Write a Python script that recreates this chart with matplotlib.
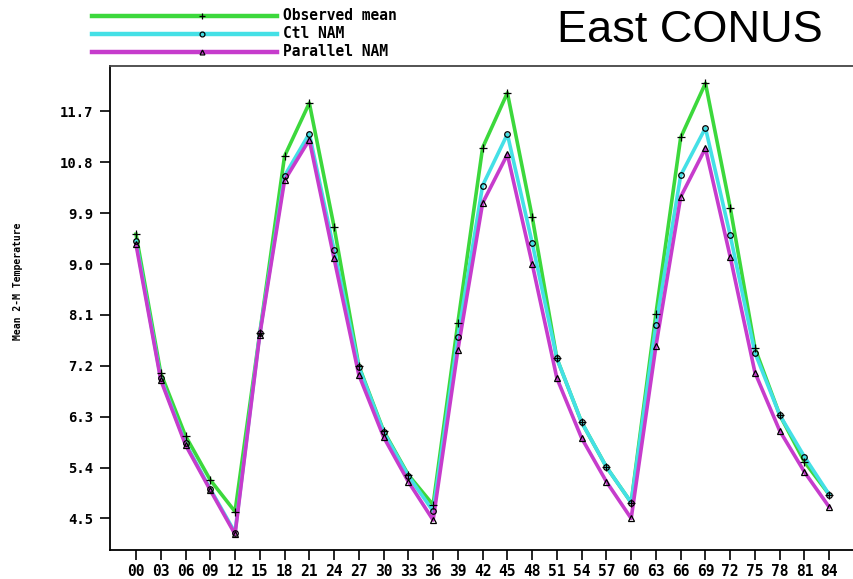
import numpy as np
import matplotlib
matplotlib.use("Agg")
import matplotlib.pyplot as plt
from matplotlib.lines import Line2D

# forecast hour
hours = np.arange(0, 87, 3)
hour_labels = ["%02d" % h for h in hours]

observed = [9.53, 7.07, 5.96, 5.18, 4.62, 7.78, 10.91, 11.85, 9.66, 7.20, 6.05, 5.27,
            4.74, 7.96, 11.06, 12.03, 9.84, 7.33, 6.20, 5.41, 4.78, 8.12, 11.24, 12.20,
            10.00, 7.51, 6.33, 5.50, 4.92]
ctl_nam = [9.41, 6.98, 5.83, 5.02, 4.25, 7.78, 10.56, 11.31, 9.25, 7.18, 6.03, 5.25,
           4.63, 7.71, 10.39, 11.30, 9.38, 7.33, 6.20, 5.41, 4.78, 7.92, 10.57, 11.41,
           9.51, 7.43, 6.33, 5.59, 4.92]
parallel_nam = [9.35, 6.95, 5.80, 5.00, 4.22, 7.75, 10.48, 11.20, 9.10, 7.04, 5.94, 5.15,
                4.47, 7.48, 10.08, 10.94, 9.01, 6.98, 5.92, 5.15, 4.50, 7.55, 10.19, 11.05,
                9.13, 7.08, 6.05, 5.32, 4.70]
yticks = [4.5, 5.4, 6.3, 7.2, 8.1, 9.0, 9.9, 10.8, 11.7]

GREEN = "#3cd83c"
CYAN = "#44e0e6"
MAGENTA = "#c63ccc"

mono = {"family": "DejaVu Sans Mono", "weight": "bold"}

fig = plt.figure(figsize=(8.54, 5.79), dpi=100)
ax = fig.add_axes([0.1288, 0.05, 0.8712, 0.836])

series = [
    (observed, GREEN, "+", "Observed mean", 5.5),
    (ctl_nam, CYAN, "o", "Ctl NAM", 4),
    (parallel_nam, MAGENTA, "^", "Parallel NAM", 4),
]
for vals, col, mk, lab, ms in series:
    ax.plot(hours, vals, color=col, lw=2.6, zorder=2)
    ax.plot(hours, vals, ls="none", marker=mk, ms=ms, mfc="none", mec="black",
            mew=0.9, zorder=3)

ax.set_xlim(-3.15, 87)
ax.set_ylim(3.94, 12.505)
ax.set_xticks(hours)
ax.set_xticklabels(hour_labels, fontdict=mono, fontsize=10.5)
ax.set_yticks(yticks)
ax.set_yticklabels(["%.1f" % v for v in yticks], fontdict=mono, fontsize=10)
ax.tick_params(direction="out", length=7, width=1.2, pad=3)
ax.tick_params(axis="y", pad=5)
ax.spines["right"].set_visible(False)
for s in ["left", "bottom", "top"]:
    ax.spines[s].set_linewidth(1.3)
ax.spines["top"].set_color("#444444")

fig.text(0.021, 0.515, "Mean 2-M Temperature", rotation=90, ha="center", va="center",
         family="DejaVu Sans Mono", weight="bold", fontsize=7)

fig.text(0.652, 0.928, "East CONUS", family="Liberation Sans", fontsize=32.5,
         ha="left", va="baseline")

# legend drawn by hand above the frame
leg_y = [1 - 15.7 / 579, 1 - 34 / 579, 1 - 52 / 579]
for (vals, col, mk, lab, ms), y in zip(series, leg_y):
    fig.add_artist(Line2D([92 / 854, 277 / 854], [y, y], color=col, lw=3.2,
                          transform=fig.transFigure))
    fig.add_artist(Line2D([202 / 854], [y], marker=mk, ms=ms - 0.5, mfc="none", mec="black",
                          mew=0.9, transform=fig.transFigure))
    fig.text(283 / 854, y, lab, va="center", ha="left", family="DejaVu Sans Mono",
             weight="bold", fontsize=10.5)

fig.savefig("out.png", dpi=100)
